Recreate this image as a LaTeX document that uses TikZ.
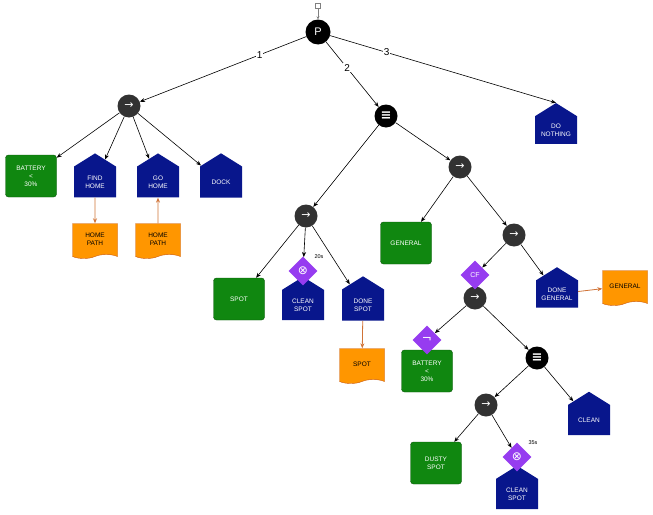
\documentclass[tikz,border=0pt]{standalone}
\usepackage{fontspec}
\setmainfont{Liberation Sans}
\newfontfamily\sym{DejaVu Sans}
\usetikzlibrary{shapes.geometric,shapes.symbols,arrows.meta}
\definecolor{grn}{RGB}{16,135,16}
\definecolor{grnb}{RGB}{10,85,10}
\definecolor{nav}{RGB}{8,22,140}
\definecolor{org}{RGB}{255,150,0}
\definecolor{orgb}{RGB}{200,90,20}
\definecolor{pur}{RGB}{150,60,240}
\definecolor{dk}{RGB}{50,50,50}
\tikzset{
  lbl/.style={font=\fontsize{6.5}{8}\selectfont, align=center},
  seqn/.style={circle, minimum size=23pt, inner sep=0, fill=dk, text=white, font=\sym\fontsize{11}{11}\selectfont},
  seln/.style={circle, minimum size=23pt, inner sep=0, fill=black, text=white, font=\sym\bfseries\fontsize{13}{13}\selectfont},
  cond/.style={lbl, rectangle, rounded corners=3pt, fill=grn, draw=grnb, minimum width=51pt, minimum height=42pt, inner sep=0, text=white},
  act/.style={lbl, signal, signal to=north, signal pointer angle=116, fill=nav, minimum width=42pt, minimum height=37pt, inner sep=0, text=white},
  docn/.style={lbl, tape, tape bend top=none, tape bend height=4pt, fill=org, draw=orgb, minimum width=45pt, minimum height=35pt, inner sep=0, text=black},
  deco/.style={diamond, fill=pur, minimum width=29pt, minimum height=29pt, inner sep=0, text=white, font=\sym\fontsize{12}{12}\selectfont},
  edg/.style={-{Stealth[length=5pt,width=4pt]}, line width=0.6pt, black},
  dedg/.style={-{Stealth[length=5pt,width=4pt]}, line width=0.8pt, orgb!85!white},
  num/.style={fill=white, inner sep=1pt, font=\fontsize{10}{10}\selectfont},
  tim/.style={font=\fontsize{5.5}{6}\selectfont}
}
\begin{document}
\begin{tikzpicture}[x=1pt,y=-1pt]
\useasboundingbox (0,0) rectangle (653,514);
% nodes
\node[draw=gray, minimum size=5pt, inner sep=0] (root) at (318,6) {};
\node[circle, minimum size=25pt, inner sep=0, fill=black, text=white, font=\fontsize{11}{11}\selectfont] (P) at (318,32) {P};
\node[seqn] (s1) at (129,106) {→};
\node[cond] (bat1) at (31,176) {BATTERY\\<\\30\%};
\node[act] (fh) at (95,182) {FIND\\HOME};
\node[act] (gh) at (158,182) {GO\\HOME};
\node[act] (dock) at (221,182) {DOCK};
\node[docn] (hp1) at (95,239) {HOME\\PATH};
\node[docn] (hp2) at (158,239) {HOME\\PATH};
\node[seln] (sel) at (386,116) {≡};
\node[act] (dn) at (556,130) {DO\\NOTHING};
\node[seqn] (s2) at (460,167) {→};
\node[seqn] (s3) at (306,216) {→};
\node[cond] (gen) at (406,243) {GENERAL};
\node[seqn] (s4) at (514,235) {→};
\node[cond] (spot) at (239,299) {SPOT};
\node[act] (cs1) at (303,305) {CLEAN\\SPOT};
\node[deco] (d20) at (303,271) {⊗};
\node[tim] (t20) at (319,257) {20s};
\node[act] (ds) at (363,305) {DONE\\SPOT};
\node[docn] (spotdoc) at (362,364) {SPOT};
\node[seqn] (s5) at (475,298) {→};
\node[deco, font=\fontsize{7}{7}\selectfont] (cf) at (475,275) {CF};
\node[act] (dg) at (557,294) {DONE\\GENERAL};
\node[docn] (gendoc) at (625,286) {GENERAL};
\node[cond] (bat2) at (427,371) {BATTERY\\<\\30\%};
\node[deco] (not) at (427,340) {¬};
\node[seln] (sel2) at (537,358) {≡};
\node[seqn] (s6) at (486,405) {→};
\node[act] (clean) at (589,420) {CLEAN};
\node[cond] (dusty) at (436,463) {DUSTY\\SPOT};
\node[act] (cs2) at (517,494) {CLEAN\\SPOT};
\node[deco] (d35) at (517,457) {⊗};
\node[tim] (t35) at (533,443) {35s};
% edges
\draw[-{Stealth[length=3pt,width=3pt]}, gray, line width=0.6pt] (root) -- (P);
\draw[edg] (P) -- node[num, pos=0.28] {1} (s1);
\draw[edg] (P) -- node[num, pos=0.4] {2} (sel);
\draw[edg] (P) -- node[num, pos=0.25] {3} (dn.north);
\draw[edg] (s1) -- (bat1);
\draw[edg] (s1) -- (fh);
\draw[edg] (s1) -- (gh);
\draw[edg] (s1) -- (dock);
\draw[dedg] (fh) -- (hp1);
\draw[dedg] (hp2) -- (gh);
\draw[edg] (sel) -- (s3);
\draw[edg] (sel) -- (s2);
\draw[edg] (s2) -- (gen);
\draw[edg] (s2) -- (s4);
\draw[edg] (s3) -- (spot);
\draw[edg] (s3) -- (d20);
\draw[edg] (s3) -- (ds);
\draw[dedg] (ds) -- (spotdoc);
\draw[edg] (s4) -- (cf);
\draw[edg] (s4) -- (dg);
\draw[dedg] (dg) -- (gendoc);
\draw[edg] (s5) -- (not);
\draw[edg] (s5) -- (sel2);
\draw[edg] (sel2) -- (s6);
\draw[edg] (sel2) -- (clean);
\draw[edg] (s6) -- (dusty);
\draw[edg] (s6) -- (d35);
\end{tikzpicture}
\end{document}
